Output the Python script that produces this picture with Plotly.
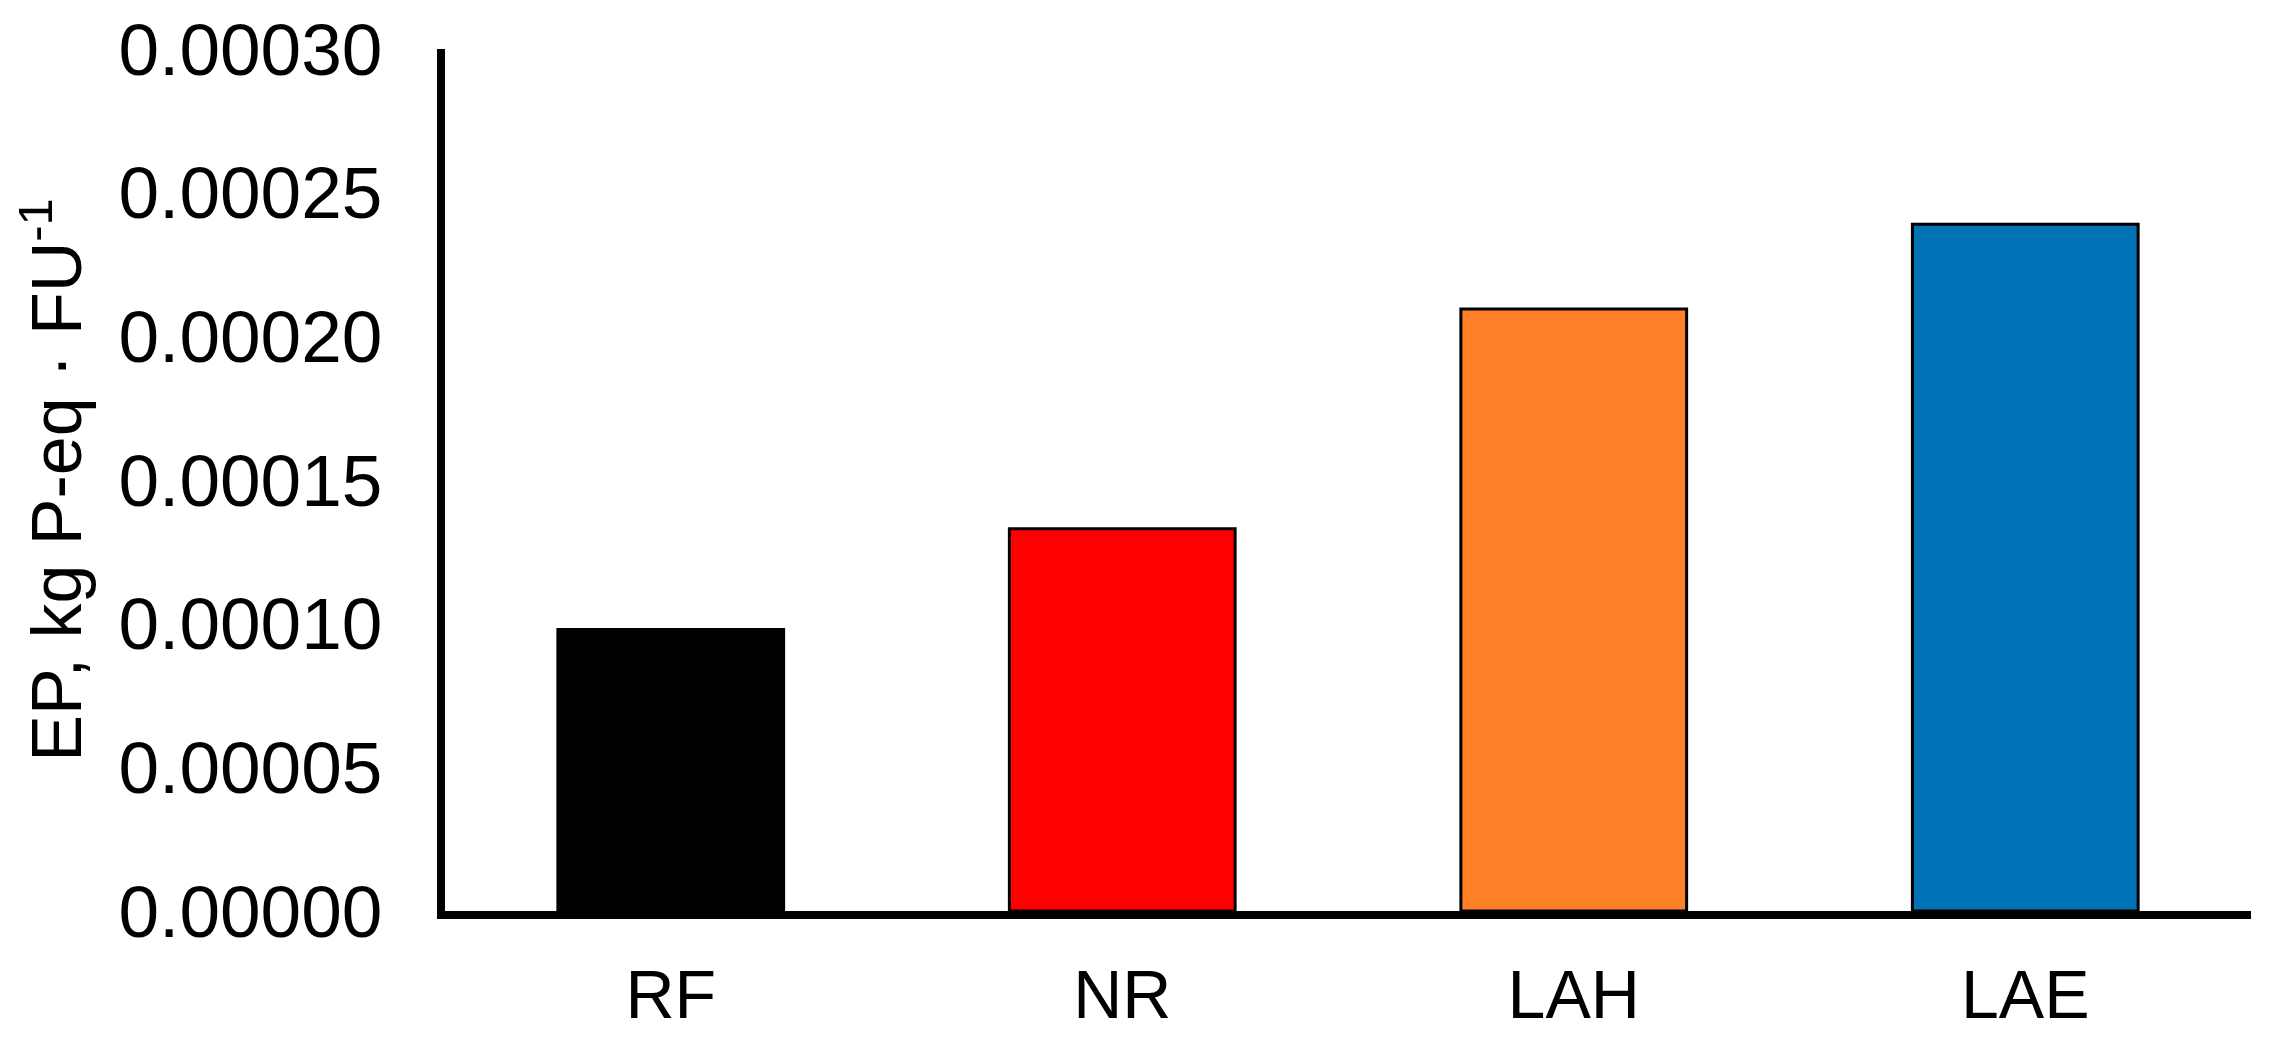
import plotly.graph_objects as go

# data
categories = ["RF", "NR", "LAH", "LAE"]
ep_values = [0.000098, 0.000133, 0.0002095, 0.000239]
bar_colors = ["#000000", "#FF0000", "#FD8027", "#0073B7"]
y_ticks = [0.0, 0.00005, 0.0001, 0.00015, 0.0002, 0.00025, 0.0003]
y_tick_text = ["0.00000", "0.00005", "0.00010", "0.00015", "0.00020", "0.00025", "0.00030"]

FONT = "Arial, Liberation Sans, sans-serif"

fig = go.Figure(
    go.Bar(
        x=categories,
        y=ep_values,
        width=0.5,
        marker=dict(color=bar_colors, line=dict(color="black", width=3)),
    )
)

fig.update_layout(
    width=2275,
    height=1051,
    margin=dict(l=437, r=32, t=41, b=148),
    plot_bgcolor="white",
    paper_bgcolor="white",
    showlegend=False,
    font=dict(family=FONT, color="black", size=68),
)

fig.update_xaxes(
    range=[-0.5, 3.5],
    showline=True,
    linecolor="black",
    linewidth=8,
    showgrid=False,
    ticks="",
    tickfont=dict(size=68),
    ticklabelstandoff=17,
    automargin=False,
)
fig.update_yaxes(
    range=[0, 0.0003],
    tickvals=y_ticks,
    ticktext=y_tick_text,
    showline=True,
    linecolor="black",
    linewidth=8,
    showgrid=False,
    zeroline=False,
    ticks="",
    tickfont=dict(size=73),
    ticklabelstandoff=40,
    automargin=False,
    title=dict(text="EP, kg P-eq · FU<sup>-1</sup>", font=dict(size=70), standoff=17),
)

fig.write_html("out.html")
